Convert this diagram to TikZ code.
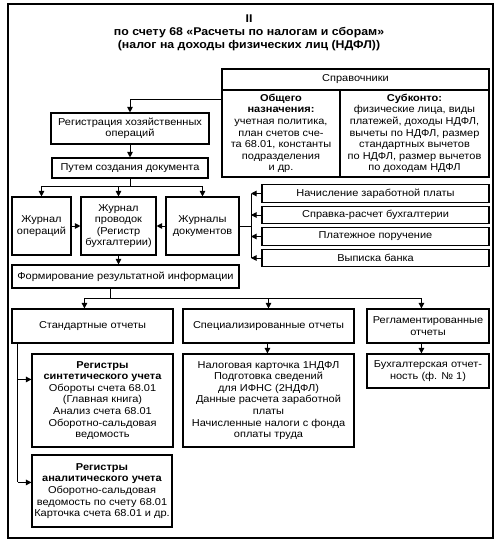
\documentclass[tikz,border=0pt]{standalone}
\usepackage{fontspec}
\setmainfont{Liberation Sans}[FakeStretch=1.1]
\usetikzlibrary{arrows.meta,calc}
\begin{document}
\begin{tikzpicture}[x=1pt,y=-1pt,
  box/.style={draw,line width=1.1pt,rectangle,inner sep=0pt,align=center,
     font=\fontsize{10}{11.6}\selectfont},
  conn/.style={line width=1pt},
  arr/.style={line width=1pt,-{Triangle[length=5.5pt,width=5.5pt]}}]
\useasboundingbox (0,0) rectangle (501,547);
\fill[white] (0,0) rectangle (501,547);
\draw[line width=1.3pt] (8,4) rectangle (493,538);
\node[align=center,font=\fontsize{11.2}{13}\bfseries\selectfont] (title) at (249,33)
  {II\\по счету 68 «Расчеты по налогам и сборам»\\(налог на доходы физических лиц (НДФЛ))};
% Справочники
\node[box,minimum width=267,minimum height=21] (spr) at (355.5,79.5) {Справочники};
\node[box,minimum width=118,minimum height=87] (gen) at (281,133.5)
  {\textbf{Общего}\\\textbf{назначения:}\\учетная политика,\\план счетов сче-\\та 68.01, константы\\подразделения\\и др.};
\node[box,minimum width=149,minimum height=87] (sub) at (414.5,133.5)
  {\textbf{Субконто:}\\физические лица, виды\\платежей, доходы НДФЛ,\\вычеты по НДФЛ, размер\\стандартных вычетов\\по НДФЛ, размер вычетов\\по доходам НДФЛ};
% left column
\node[box,minimum width=158,minimum height=31] (reg) at (130,128.5) {Регистрация хозяйственных\\операций};
\node[box,minimum width=156,minimum height=20] (put) at (130,168) {Путем создания документа};
\node[box,minimum width=59,minimum height=58] (jo) at (41.5,226) {Журнал\\операций};
\node[box,minimum width=75,minimum height=58] (jp) at (118.5,226) {Журнал\\проводок\\(Регистр\\бухгалтерии)};
\node[box,minimum width=73,minimum height=58] (jd) at (202.5,226) {Журналы\\документов};
% source documents
\node[box,minimum width=227,minimum height=17.5] (r1) at (375.5,193.5) {Начисление заработной платы};
\node[box,minimum width=227,minimum height=17.5] (r2) at (375.5,215) {Справка-расчет бухгалтерии};
\node[box,minimum width=227,minimum height=17.5] (r3) at (375.5,236.5) {Платежное поручение};
\node[box,minimum width=227,minimum height=17.5] (r4) at (375.5,258) {Выписка банка};
\node[box,minimum width=227,minimum height=23] (form) at (125.5,276.5) {Формирование результатной информации};
% reports
\node[box,minimum width=161,minimum height=34] (std) at (92.5,326) {Стандартные отчеты};
\node[box,minimum width=171,minimum height=34] (spec) at (268.5,326) {Специализированные отчеты};
\node[box,minimum width=122,minimum height=34] (regl) at (428,326) {Регламентированные\\отчеты};
\node[box,minimum width=141,minimum height=93] (syn) at (102.5,400.5)
  {\textbf{Регистры}\\\textbf{синтетического учета}\\Обороты счета 68.01\\(Главная книга)\\Анализ счета 68.01\\Оборотно-сальдовая\\ведомость};
\node[box,minimum width=171,minimum height=93] (spd) at (268.5,400.5)
  {Налоговая карточка 1НДФЛ\\Подготовка сведений\\для ИФНС (2НДФЛ)\\Данные расчета заработной\\платы\\Начисленные налоги с фонда\\оплаты труда};
\node[box,minimum width=122,minimum height=34] (buh) at (428,371) {Бухгалтерская отчет-\\ность (ф. № 1)};
\node[box,minimum width=140,minimum height=72] (ana) at (102,491)
  {\textbf{Регистры}\\\textbf{аналитического учета}\\Оборотно-сальдовая\\ведомость по счету 68.01\\Карточка счета 68.01 и др.};
% connectors
\draw[arr] ($(gen.north west)+(0,10)$) -| (reg.north);
\draw[arr] (reg.south) -- (put.north);
\coordinate (jb) at (130,186);
\draw[conn] (put.south) -- (jb);
\draw[arr] (jb) -| (jo.north);
\draw[arr] (jb) -| (jp.north);
\draw[arr] (jb) -| (jd.north);
\draw[arr] (jo.east) -- (jp.west);
\draw[arr] (jd.west) -- (jp.east);
\coordinate (bx) at (251,0);
\draw[conn] (jd.east) -- (jd.east -| bx);
\draw[conn] (r1.west -| bx) -- (r4.west -| bx);
\foreach \r in {r1,r2,r3,r4} \draw[arr] (\r.west) -- (\r.west -| bx);
\draw[arr] (jp.south) -- (jp.south |- form.north);
\coordinate (fs) at ($(form.south west)+(99,0)$);
\coordinate (fb) at ($(fs)+(0,10)$);
\draw[conn] (fs) -- (fb);
\draw[arr] (fb) -| ($(std.north west)+(73,0)$);
\draw[arr] (fb) -| (spec.north);
\draw[arr] (fb) -| ($(regl.north west)+(55,0)$);
\draw[arr] ($(spec.south west)+(85,0)$) -- ($(spd.north west)+(85,0)$);
\draw[arr] ($(regl.south west)+(55,0)$) -- ($(buh.north west)+(55,0)$);
\coordinate (ls) at ($(std.south west)+(6.5,0)$);
\coordinate (la) at ($(ana.north west)+(0,28)$);
\coordinate (lsy) at ($(syn.north west)+(0,26)$);
\draw[conn] (ls) -- (ls |- la);
\draw[arr] (ls |- lsy) -- (lsy);
\draw[arr] (ls |- la) -- (la);
\end{tikzpicture}
\end{document}
